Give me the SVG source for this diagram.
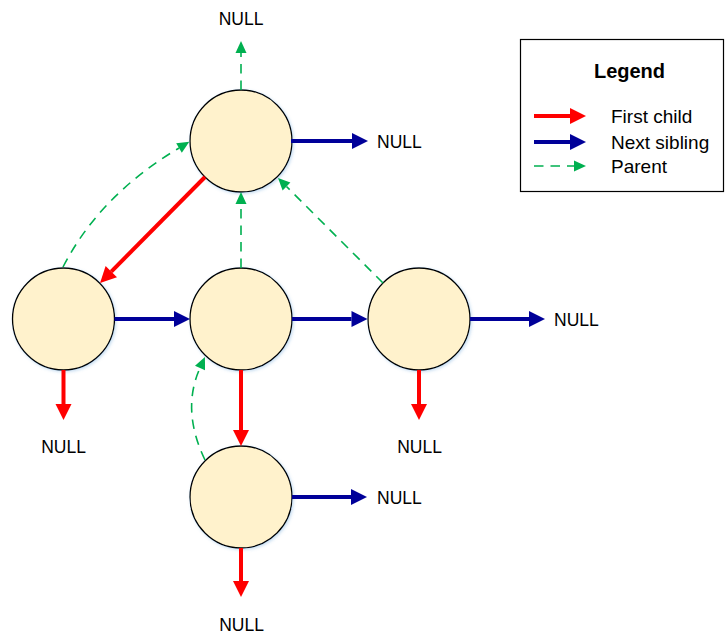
<svg xmlns="http://www.w3.org/2000/svg" width="727" height="635" viewBox="0 0 727 635">
  <style>
    .node { fill: #FFF2CC; stroke: #000000; stroke-width: 1.3; filter: url(#glow); }
    .child { fill: none; stroke: #FF0000; stroke-width: 4; marker-end: url(#headRed); }
    .sib { fill: none; stroke: #000099; stroke-width: 4; marker-end: url(#headBlue); }
    .par { fill: none; stroke: #00B050; stroke-width: 1.6; stroke-dasharray: 9.5 7; marker-end: url(#headGreen); }
    .lbl { font-family: "Liberation Sans", Arial, sans-serif; font-size: 17.5px; fill: #000000; }
    .leg { font-family: "Liberation Sans", Arial, sans-serif; font-size: 19px; fill: #000000; }
    .title { font-family: "Liberation Sans", Arial, sans-serif; font-size: 20px; font-weight: bold; fill: #000000; }
  </style>
  <defs>
    <filter id="glow" x="-20%" y="-20%" width="140%" height="140%">
      <feDropShadow dx="1.2" dy="1.2" stdDeviation="1.5" flood-color="#5B9BD5" flood-opacity="0.35"/>
    </filter>
    <marker id="headRed" markerUnits="userSpaceOnUse" markerWidth="17" markerHeight="17" refX="0" refY="8" orient="auto" overflow="visible">
      <path d="M0,0 L16,8 L0,16 Z" fill="#FF0000"/>
    </marker>
    <marker id="headBlue" markerUnits="userSpaceOnUse" markerWidth="17" markerHeight="17" refX="0" refY="8" orient="auto" overflow="visible">
      <path d="M0,0 L16,8 L0,16 Z" fill="#000099"/>
    </marker>
    <marker id="headGreen" markerUnits="userSpaceOnUse" markerWidth="13" markerHeight="12" refX="0" refY="5.5" orient="auto" overflow="visible">
      <path d="M0,0 L12,5.5 L0,11 Z" fill="#00B050"/>
    </marker>
  </defs>

  <!-- tree nodes -->
  <g id="node-root"><circle class="node" cx="241" cy="141" r="51"/></g>
  <g id="node-a"><circle class="node" cx="63.5" cy="319" r="51"/></g>
  <g id="node-b"><circle class="node" cx="241" cy="319" r="51"/></g>
  <g id="node-c"><circle class="node" cx="419" cy="319" r="51"/></g>
  <g id="node-d"><circle class="node" cx="241" cy="497" r="51"/></g>

  <!-- links: first child (red), next sibling (blue), parent (green dashed) -->
  <g id="connectors">
    <line class="sib" x1="291" y1="141" x2="352" y2="141"/>
    <line class="sib" x1="114.5" y1="319" x2="174" y2="319"/>
    <line class="sib" x1="292" y1="319" x2="351.5" y2="319"/>
    <line class="sib" x1="470" y1="319" x2="529" y2="319"/>
    <line class="sib" x1="292" y1="497" x2="351" y2="497"/>

    <line class="child" x1="205" y1="177" x2="111.3" y2="271.6"/>
    <line class="child" x1="63.5" y1="370" x2="63.5" y2="404"/>
    <line class="child" x1="241" y1="370" x2="241" y2="430"/>
    <line class="child" x1="419" y1="370" x2="419" y2="404"/>
    <line class="child" x1="241" y1="548" x2="241" y2="581"/>

    <line class="par" x1="241" y1="90" x2="241" y2="53"/>
    <line class="par" x1="241" y1="268" x2="241" y2="204"/>
    <line class="par" x1="383" y1="283" x2="286.5" y2="186.5"/>
    <path class="par" d="M63,267 Q100,195 179,148"/>
    <path class="par" d="M205,460 Q181,410 200,368"/>
  </g>

  <!-- NULL terminators -->
  <g id="null-labels">
    <text class="lbl" x="241" y="25" text-anchor="middle">NULL</text>
    <text class="lbl" x="377" y="148">NULL</text>
    <text class="lbl" x="554" y="326">NULL</text>
    <text class="lbl" x="63.5" y="453" text-anchor="middle">NULL</text>
    <text class="lbl" x="419.5" y="453" text-anchor="middle">NULL</text>
    <text class="lbl" x="377" y="504">NULL</text>
    <text class="lbl" x="241.5" y="631" text-anchor="middle">NULL</text>
  </g>

  <!-- legend box -->
  <g id="legend">
    <rect x="520.5" y="39.5" width="203" height="152" fill="#FFFFFF" stroke="#000000" stroke-width="1.2"/>
    <text class="title" x="629.5" y="78" text-anchor="middle">Legend</text>
    <line class="child" x1="534" y1="116" x2="570" y2="116"/>
    <line class="sib" x1="534" y1="142" x2="570" y2="142"/>
    <line class="par" x1="534" y1="166" x2="574" y2="166"/>
    <text class="leg" x="611" y="123">First child</text>
    <text class="leg" x="611" y="149">Next sibling</text>
    <text class="leg" x="611" y="173">Parent</text>
  </g>
</svg>
